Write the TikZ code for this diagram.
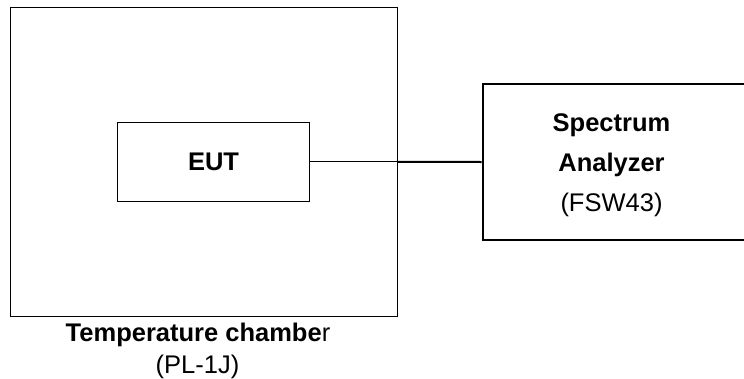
\documentclass[tikz,border=0pt]{standalone}
\usepackage{fontspec}
\setmainfont{Liberation Sans}
\begin{document}
\begin{tikzpicture}[x=1pt,y=-1pt,
  thinbox/.style={draw=black,line width=1pt,inner sep=0pt},
  thickbox/.style={draw=black,line width=2pt,inner sep=0pt},
  lbl/.style={font=\fontsize{25.5}{30}\selectfont,inner sep=0pt,anchor=base},
  lblb/.style={lbl,font=\fontsize{25.5}{30}\selectfont\bfseries}]
\clip (0,0) rectangle (744,378);
\fill[white] (0,0) rectangle (744,378);
% temperature chamber
\node[thinbox,minimum width=386.8pt,minimum height=308.7pt] (chamber) at (204.1,161.65) {};
% EUT
\node[thinbox,minimum width=192.4pt,minimum height=79pt,font=\fontsize{25.5}{30}\selectfont\bfseries] (eut) at (213.5,161.8) {EUT};
% spectrum analyzer box (right edge beyond the picture)
\node[thickbox,minimum width=280pt,minimum height=156pt] (sa) at (622.7,162) {};
\node[lblb] (sa1) at (611.5,131.7) {Spectrum};
\node[lblb] (sa2) at (611.5,171.7) {Analyzer};
\node[lbl] (sa3) at (611.5,211.7) {(FSW43)};
% chamber caption
\node[lbl] (cap1) at (198,341.7) {\bfseries Temperature chambe\mdseries r};
\node[lbl] (cap2) at (197.5,373.3) {(PL-1J)};
% cable
\coordinate (wall) at (chamber.east |- eut.east);
\draw[line width=1pt] (eut.east) -- (wall);
\draw[line width=2pt] (wall) -- (sa.west);
\end{tikzpicture}
\end{document}
